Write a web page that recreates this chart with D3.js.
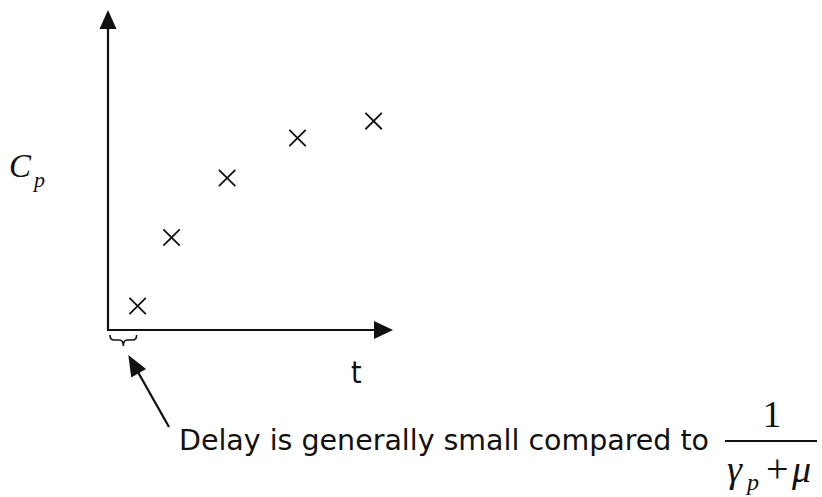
<!DOCTYPE html>
<html>
<head>
<meta charset="utf-8">
<script src="https://cdn.jsdelivr.net/npm/d3@7"></script>
<style>
  html, body { margin: 0; padding: 0; background: #fff; }
  svg { display: block; }
</style>
</head>
<body>
<script>
// Sampled concentration over time (arbitrary units, 0-100 on both axes)
const timePoints = [10.4, 22.3, 41.8, 66.5, 93.2];
const cpValues   = [7.5, 28.9, 47.5, 60.0, 65.3];
const xLabel = "t";
const yLabel = "C";
const ySub = "p";
const noteText = "Delay is generally small compared to";

const W = 822, H = 497;
const ink = "#111";

const svg = d3.select("body").append("svg")
  .attr("width", W).attr("height", H);

const x = d3.scaleLinear().domain([0, 100]).range([108, 393]);
const y = d3.scaleLinear().domain([0, 100]).range([330, 10]);

// Arrowhead helper: filled triangle at the end of a segment
function arrowHead(x1, y1, x2, y2, len, half) {
  const a = Math.atan2(y2 - y1, x2 - x1);
  const bx = x2 - len * Math.cos(a), by = y2 - len * Math.sin(a);
  const nx = -Math.sin(a) * half, ny = Math.cos(a) * half;
  svg.append("path")
    .attr("d", `M${x2},${y2}L${bx + nx},${by + ny}L${bx - nx},${by - ny}Z`)
    .attr("fill", ink);
}

// Axes
const x0 = x(0), y0 = y(0);
const xEnd = x.range()[1], yEnd = y.range()[1];
svg.append("line").attr("x1", x0).attr("y1", y0).attr("x2", xEnd - 10).attr("y2", y0)
  .attr("stroke", ink).attr("stroke-width", 2.2);
svg.append("line").attr("x1", x0).attr("y1", y0 + 1).attr("x2", x0).attr("y2", yEnd + 10)
  .attr("stroke", ink).attr("stroke-width", 2.2);
arrowHead(x0, y0, xEnd, y0, 19, 9);
arrowHead(x0, y0, x0, yEnd, 19, 8.5);

// Cross markers
const s = 8.2;
const pts = timePoints.map((t, i) => [x(t), y(cpValues[i])]);
svg.append("g").selectAll("path").data(pts).join("path")
  .attr("d", d => `M${d[0] - s},${d[1] - s}L${d[0] + s},${d[1] + s}M${d[0] - s},${d[1] + s}L${d[0] + s},${d[1] - s}`)
  .attr("stroke", ink).attr("stroke-width", 1.8).attr("fill", "none");

// Brace under the initial delay
const bL = x0 + 2, bR = x(timePoints[0]) - 1, bM = (bL + bR) / 2;
const bt = y0 + 5, bb = y0 + 10, bp = y0 + 16;
svg.append("path")
  .attr("d", `M${bL},${bt} Q${bL},${bb} ${bL + 4},${bb} L${bM - 4},${bb} Q${bM},${bb} ${bM},${bp} Q${bM},${bb} ${bM + 4},${bb} L${bR - 4},${bb} Q${bR},${bb} ${bR},${bt}`)
  .attr("stroke", ink).attr("stroke-width", 1.6).attr("fill", "none");

// Pointer from the note to the brace
const tail = [169, 427], tip = [bM + 5, y0 + 25];
svg.append("line").attr("x1", tail[0]).attr("y1", tail[1])
  .attr("x2", tip[0] + (tail[0] - tip[0]) * 0.2).attr("y2", tip[1] + (tail[1] - tip[1]) * 0.2)
  .attr("stroke", ink).attr("stroke-width", 2.2);
arrowHead(tail[0], tail[1], tip[0], tip[1], 21, 8.5);

// Axis labels
const sans = "'DejaVu Sans Condensed', 'DejaVu Sans', sans-serif";
const serif = "'Liberation Serif', 'Times New Roman', serif";
svg.append("text").attr("x", 351).attr("y", 383)
  .attr("font-family", sans).attr("font-size", 30).attr("fill", ink).text(xLabel);

const cp = svg.append("text").attr("x", 9).attr("y", 177)
  .attr("font-family", serif).attr("font-style", "italic").attr("font-size", 33).attr("fill", ink);
cp.append("tspan").text(yLabel);
cp.append("tspan").attr("dx", 3).attr("dy", 10).attr("font-size", 22).text(ySub);

// Note
svg.append("text").attr("x", 179).attr("y", 450)
  .attr("font-family", sans).attr("font-size", 29).attr("fill", ink)
  .attr("textLength", 530).attr("lengthAdjust", "spacingAndGlyphs")
  .text(noteText);

// Fraction 1 / (γp + μ)
svg.append("line").attr("x1", 725).attr("y1", 441).attr("x2", 817).attr("y2", 441)
  .attr("stroke", ink).attr("stroke-width", 2);
svg.append("text").attr("x", 772).attr("y", 427).attr("text-anchor", "middle")
  .attr("font-family", serif).attr("font-size", 37).attr("fill", ink).text("1");
const denY = 482;
const denom = [
  { t: "γ", x: 727, dy: 0, size: 38, italic: true },
  { t: "p", x: 747, dy: 8, size: 24, italic: true },
  { t: "+", x: 766, dy: 0, size: 40, italic: false },
  { t: "μ", x: 792, dy: 0, size: 38, italic: true }
];
svg.append("g").selectAll("text").data(denom).join("text")
  .attr("x", d => d.x).attr("y", d => denY + d.dy)
  .attr("font-family", serif).attr("font-size", d => d.size)
  .attr("font-style", d => d.italic ? "italic" : "normal")
  .attr("fill", ink).text(d => d.t);
</script>
</body>
</html>
